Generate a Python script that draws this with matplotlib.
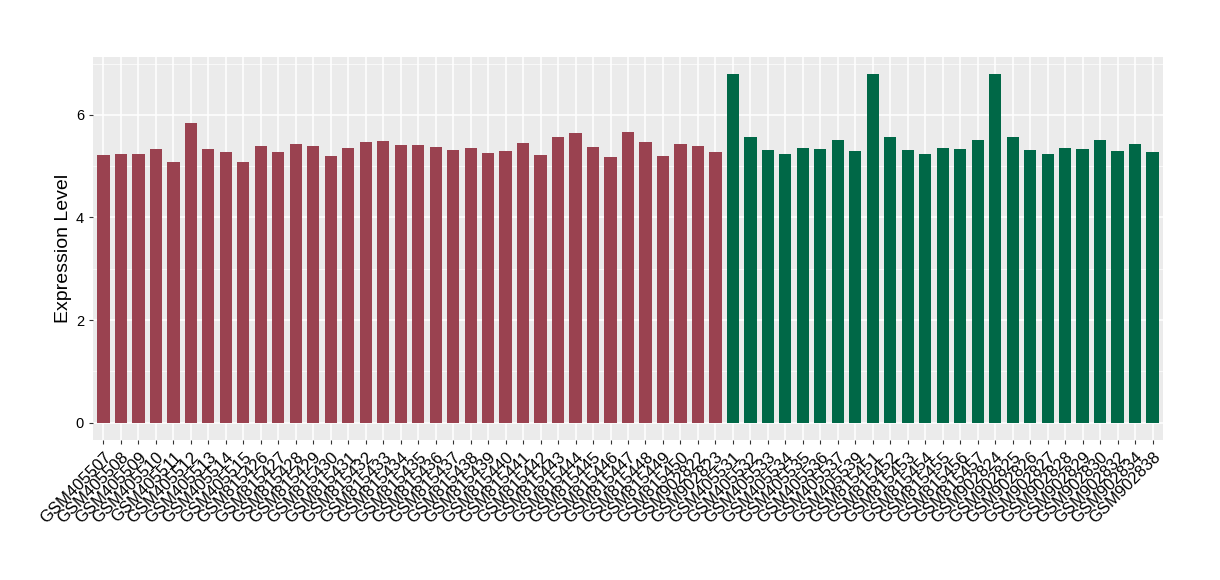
import matplotlib
matplotlib.use('Agg')
import matplotlib.pyplot as plt
from matplotlib.ticker import MultipleLocator

plt.rcParams['font.family'] = ['Liberation Sans', 'DejaVu Sans']

# samples in group 1 (red) and group 2 (green)
samples_a = ['GSM405507', 'GSM405508', 'GSM405509', 'GSM405510', 'GSM405511',
             'GSM405512', 'GSM405513', 'GSM405514', 'GSM405515', 'GSM815426',
             'GSM815427', 'GSM815428', 'GSM815429', 'GSM815430', 'GSM815431',
             'GSM815432', 'GSM815433', 'GSM815434', 'GSM815435', 'GSM815436',
             'GSM815437', 'GSM815438', 'GSM815439', 'GSM815440', 'GSM815441',
             'GSM815442', 'GSM815443', 'GSM815444', 'GSM815445', 'GSM815446',
             'GSM815447', 'GSM815448', 'GSM815449', 'GSM815450', 'GSM902822',
             'GSM902823']
values_a = [5.21, 5.23, 5.23, 5.33, 5.08, 5.84, 5.33, 5.27, 5.08, 5.39,
            5.27, 5.43, 5.39, 5.19, 5.35, 5.47, 5.49, 5.41, 5.41, 5.37,
            5.31, 5.35, 5.25, 5.29, 5.45, 5.21, 5.56, 5.64, 5.37, 5.18,
            5.66, 5.47, 5.19, 5.43, 5.39, 5.27]

samples_b = ['GSM405531', 'GSM405532', 'GSM405533', 'GSM405534', 'GSM405535',
             'GSM405536', 'GSM405537', 'GSM405539', 'GSM815451', 'GSM815452',
             'GSM815453', 'GSM815454', 'GSM815455', 'GSM815456', 'GSM815457',
             'GSM902824', 'GSM902825', 'GSM902826', 'GSM902827', 'GSM902828',
             'GSM902829', 'GSM902830', 'GSM902832', 'GSM902834', 'GSM902838']
values_b = [6.79, 5.56, 5.31, 5.23, 5.35, 5.33, 5.51, 5.29, 6.79, 5.56,
            5.31, 5.23, 5.35, 5.33, 5.51, 6.79, 5.56, 5.31, 5.23, 5.35,
            5.33, 5.51, 5.29, 5.43, 5.27]

color_a = '#9A4250'
color_b = '#006847'

labels = samples_a + samples_b
values = values_a + values_b
colors = [color_a] * len(samples_a) + [color_b] * len(samples_b)
x = list(range(len(labels)))

fig = plt.figure(figsize=(12.2, 5.8), dpi=100)
ax = fig.add_axes([0.0762, 0.2414, 0.8771, 0.6603])

ax.set_facecolor('#EBEBEB')
ax.bar(x, values, width=0.7, color=colors, zorder=3)

ymax = max(values)
ax.set_ylim(-0.05 * ymax, ymax * 1.05)
ax.set_xlim(-0.6, len(labels) - 0.4)

ax.yaxis.set_major_locator(MultipleLocator(2))
ax.yaxis.set_minor_locator(MultipleLocator(1))
ax.set_xticks(x)
ax.set_xticklabels(labels, rotation=45, ha='right', va='top',
                   rotation_mode='anchor', fontsize=12)

ax.grid(which='major', color='white', linewidth=1.1, zorder=0)
ax.grid(which='minor', axis='y', color='white', linewidth=0.5, zorder=0)
ax.tick_params(axis='both', which='major', length=3, color='#333333',
               labelcolor='black')
ax.tick_params(axis='y', labelsize=10.5)
ax.tick_params(which='minor', length=0)
for s in ax.spines.values():
    s.set_visible(False)

ax.set_ylabel('Expression Level', fontsize=14, labelpad=3)

fig.savefig('out.png', dpi=100)
